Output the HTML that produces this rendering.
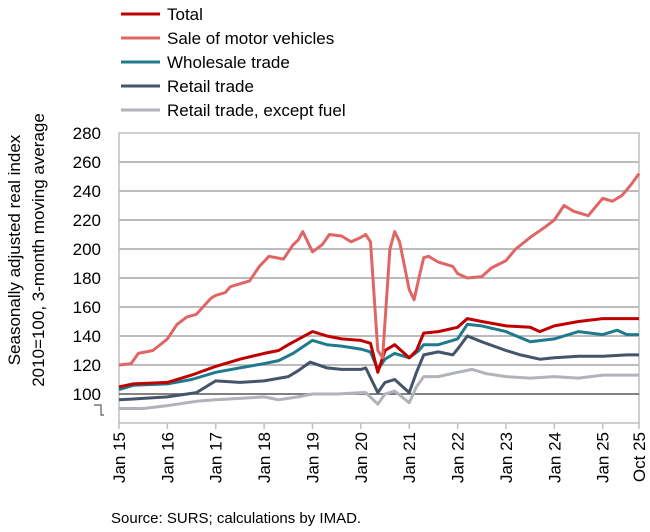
<!DOCTYPE html><html><head><meta charset="utf-8"><style>body{margin:0;background:#fff}svg{display:block;font-family:"Liberation Sans",sans-serif}</style></head><body>
<svg id="s" width="650" height="532" xmlns="http://www.w3.org/2000/svg">
<rect width="650" height="532" fill="#fff"/>
<g id="grid"></g>
<rect x="119" y="133" width="520" height="290" fill="none" stroke="#bfbfbf" stroke-width="1.5"/>
<line x1="119" y1="394" x2="639" y2="394" stroke="#595959" stroke-width="1.5"/>
<g id="ser" fill="none" stroke-width="3" stroke-linejoin="round"></g>
<path d="M94 405 H101 V415 H104" fill="none" stroke="#595959" stroke-width="1.2"/>
<g font-size="17" fill="#000" text-anchor="end" id="yl"></g>
<g font-size="17" fill="#000" id="xl"></g>
<text transform="translate(20,250) rotate(-90)" font-size="17" text-anchor="middle">Seasonally adjusted real index</text>
<text transform="translate(44,250) rotate(-90)" font-size="17" text-anchor="middle">2010=100, 3-month moving average</text>
<g font-size="17">
<line x1="121" y1="14" x2="160" y2="14" stroke="#c00000" stroke-width="3"/><text x="167" y="20">Total</text>
<line x1="121" y1="38" x2="160" y2="38" stroke="#e06666" stroke-width="3"/><text x="167" y="44">Sale of motor vehicles</text>
<line x1="121" y1="62" x2="160" y2="62" stroke="#1f7a8c" stroke-width="3"/><text x="167" y="68">Wholesale trade</text>
<line x1="121" y1="86" x2="160" y2="86" stroke="#44546a" stroke-width="3"/><text x="167" y="92">Retail trade</text>
<line x1="121" y1="110" x2="160" y2="110" stroke="#b0b3b8" stroke-width="3"/><text x="167" y="116">Retail trade, except fuel</text>
</g>
<text x="111" y="523" font-size="15">Source: SURS; calculations by IMAD.</text>
</svg>
<script>
const NS="http://www.w3.org/2000/svg";
const X=t=>119+(t-2015)*12*4.031, Y=v=>394-(v-100)*1.45;
function el(p,tag,a,txt){const e=document.createElementNS(NS,tag);for(const k in a)e.setAttribute(k,a[k]);if(txt)e.textContent=txt;p.appendChild(e);return e;}
const g=document.getElementById('grid'),yl=document.getElementById('yl'),xl=document.getElementById('xl');
for(let v=100;v<=280;v+=20){if(v>100&&v<280)el(g,'line',{x1:119,x2:639,y1:Y(v),y2:Y(v),stroke:'#a6a6a6','stroke-width':1.5});el(yl,'text',{x:101,y:Y(v)+6},String(v));}
for(let y=15;y<=25;y++){const x=X(2000+y);el(g,'line',{x1:x,x2:x,y1:423,y2:429,stroke:'#bfbfbf','stroke-width':1.5});el(xl,'text',{transform:`translate(${x+6},432) rotate(-90)`,'text-anchor':'end'},'Jan '+y);}
el(g,'line',{x1:X(2025.75),x2:X(2025.75),y1:423,y2:429,stroke:'#bfbfbf','stroke-width':1.5});
el(xl,'text',{transform:`translate(${X(2025.75)+6},432) rotate(-90)`,'text-anchor':'end'},'Oct 25');
const S=[
['#b0b3b8',[2015,90,2015.5,90,2016,92,2016.6,95,2017,96,2017.5,97,2018,98,2018.3,96,2018.7,98,2019,100,2019.5,100,2020,101,2020.1,101,2020.35,93,2020.5,100,2020.7,102,2021,94,2021.15,105,2021.3,112,2021.6,112,2022,115,2022.3,117,2022.6,114,2023,112,2023.5,111,2024,112,2024.5,111,2025,113,2025.75,113]],
['#44546a',[2015,96,2015.5,97,2016,98,2016.6,101,2017,109,2017.5,108,2018,109,2018.5,112,2018.7,116,2018.95,122,2019.3,118,2019.6,117,2020,117,2020.1,118,2020.35,101,2020.5,108,2020.7,110,2021,101,2021.15,115,2021.3,127,2021.6,129,2021.9,127,2022,131,2022.2,140,2022.5,136,2023,130,2023.3,127,2023.7,124,2024,125,2024.5,126,2025,126,2025.5,127,2025.75,127]],
['#1f7a8c',[2015,103,2015.3,106,2016,107,2016.5,110,2017,115,2017.5,118,2018,121,2018.3,123,2018.6,128,2019,137,2019.3,134,2019.6,133,2020,131,2020.2,129,2020.35,117,2020.5,124,2020.7,128,2021,125,2021.2,130,2021.3,134,2021.6,134,2022,138,2022.2,148,2022.5,147,2023,143,2023.5,136,2024,138,2024.5,143,2025,141,2025.3,144,2025.5,141,2025.75,141]],
['#c00000',[2015,105,2015.3,107,2016,108,2016.5,113,2017,119,2017.5,124,2018,128,2018.3,130,2018.5,134,2019,143,2019.3,140,2019.6,138,2020,137,2020.2,135,2020.35,115,2020.5,130,2020.7,134,2021,125,2021.15,130,2021.3,142,2021.6,143,2022,146,2022.2,152,2022.5,150,2023,147,2023.5,146,2023.7,143,2024,147,2024.5,150,2025,152,2025.75,152]],
['#e06666',[2015,120,2015.25,121,2015.4,128,2015.7,130,2016,138,2016.2,148,2016.4,153,2016.6,155,2016.9,166,2017,168,2017.2,170,2017.3,174,2017.5,176,2017.7,178,2017.9,188,2018.1,195,2018.4,193,2018.6,203,2018.7,206,2018.8,212,2018.9,205,2019,198,2019.2,203,2019.35,210,2019.6,209,2019.8,205,2020,208,2020.1,210,2020.2,205,2020.35,130,2020.45,125,2020.6,200,2020.7,212,2020.8,205,2021,172,2021.1,165,2021.2,180,2021.3,194,2021.4,195,2021.6,191,2021.9,188,2022,183,2022.2,180,2022.5,181,2022.7,187,2023,192,2023.2,200,2023.5,208,2023.8,215,2024,220,2024.2,230,2024.4,226,2024.7,223,2025,235,2025.2,233,2025.4,237,2025.6,245,2025.75,252]]];
const ser=document.getElementById('ser');
for(const [c,k] of S){let p=[];for(let i=0;i<k.length;i+=2)p.push(X(k[i]).toFixed(1)+','+Y(k[i+1]).toFixed(1));el(ser,'polyline',{points:p.join(' '),stroke:c});}
</script>
</body></html>
